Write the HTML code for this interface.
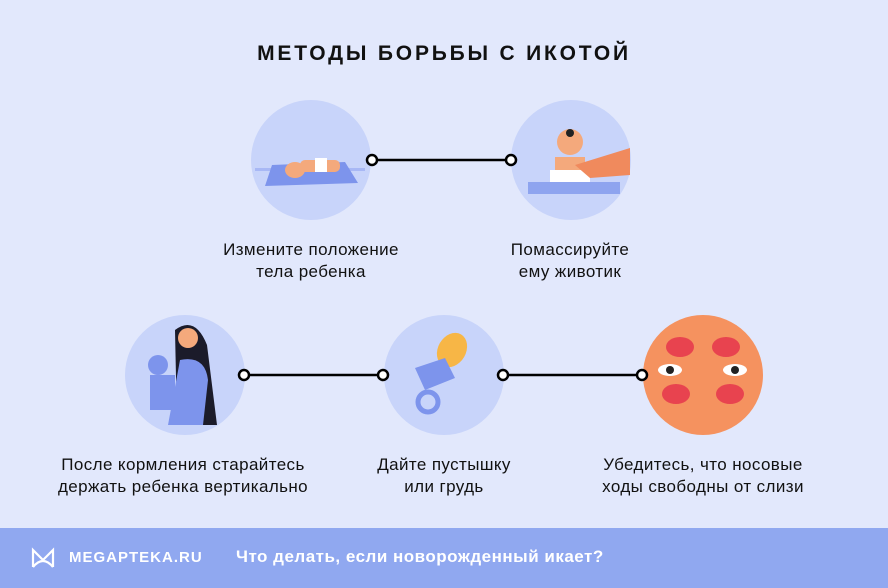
<!DOCTYPE html>
<html><head><meta charset="utf-8"><style>
body{margin:0;width:888px;height:588px;background:#e2e8fc;font-family:"Liberation Sans",sans-serif;position:relative;overflow:hidden}
.t{position:absolute;width:320px;text-align:center;font-size:17px;letter-spacing:0.4px;line-height:22px;color:#111}
h1{position:absolute;top:42px;left:0;width:888px;text-align:center;margin:0;font-size:21px;letter-spacing:2.8px;font-weight:bold;color:#111}
.f{position:absolute;left:0;top:528px;width:888px;height:60px;background:#90a8f0;color:#fff}
</style></head><body>
<h1>МЕТОДЫ БОРЬБЫ С ИКОТОЙ</h1>
<svg width="888" height="588" style="position:absolute;left:0;top:0">
<g fill="#c8d4fa"><circle cx="311" cy="160" r="60"/><circle cx="571" cy="160" r="60"/><circle cx="185" cy="375" r="60"/><circle cx="444" cy="375" r="60"/></g>
<circle cx="703" cy="375" r="60" fill="#f5925f"/>
<rect x="255" y="168" width="110" height="3" fill="#a8b8f5"/>
<path d="M272 165 L345 162 L358 183 L265 186 Z" fill="#7d94ec"/>
<ellipse cx="295" cy="170" rx="10" ry="8" fill="#f4a97c"/><rect x="300" y="160" width="40" height="12" rx="5" fill="#f4a97c"/><rect x="315" y="158" width="12" height="14" fill="#fff"/>
<circle cx="570" cy="142" r="13" fill="#f4a97c"/><circle cx="570" cy="133" r="4" fill="#222"/>
<path d="M555 157 h30 v25 h-30z" fill="#f4a97c"/><path d="M550 170 h40 v18 h-40z" fill="#fff"/>
<path d="M528 182 h92 v12 h-92z" fill="#8ea4ef" rx="5"/>
<path d="M575 165 L630 148 L630 175 L590 178 Z" fill="#f08a5d"/>
<path d="M175 330 q20 -15 32 15 q5 40 10 80 h-40z" fill="#1b1b2a"/>
<path d="M180 360 q25 -5 28 20 l-5 45 h-35z" fill="#7d94ec"/>
<circle cx="188" cy="338" r="10" fill="#f4a97c"/>
<circle cx="158" cy="365" r="10" fill="#7d94ec"/><path d="M150 375 h25 v35 h-25z" fill="#7d94ec"/>
<ellipse cx="452" cy="350" rx="14" ry="18" fill="#f7b646" transform="rotate(30 452 350)"/>
<path d="M415 368 l30 -10 l10 20 l-30 12z" fill="#7d94ec"/>
<circle cx="428" cy="402" r="10" fill="none" stroke="#7d94ec" stroke-width="5"/>
<ellipse cx="680" cy="347" rx="14" ry="10" fill="#e8434f"/><ellipse cx="726" cy="347" rx="14" ry="10" fill="#e8434f"/>
<ellipse cx="676" cy="394" rx="14" ry="10" fill="#e8434f"/><ellipse cx="730" cy="394" rx="14" ry="10" fill="#e8434f"/>
<ellipse cx="670" cy="370" rx="12" ry="6" fill="#fff"/><circle cx="670" cy="370" r="4" fill="#222"/>
<ellipse cx="735" cy="370" rx="12" ry="6" fill="#fff"/><circle cx="735" cy="370" r="4" fill="#222"/>
<g stroke="#000" stroke-width="2.5" fill="#fff">
<line x1="377" y1="160" x2="506" y2="160"/><circle cx="372" cy="160" r="5"/><circle cx="511" cy="160" r="5"/>
<line x1="249" y1="375" x2="378" y2="375"/><circle cx="244" cy="375" r="5"/><circle cx="383" cy="375" r="5"/>
<line x1="508" y1="375" x2="637" y2="375"/><circle cx="503" cy="375" r="5"/><circle cx="642" cy="375" r="5"/>
</g></svg>
<div class="t" style="left:151px;top:239px">Измените положение<br>тела ребенка</div>
<div class="t" style="left:410px;top:239px">Помассируйте<br>ему животик</div>
<div class="t" style="left:23px;top:454px">После кормления старайтесь<br>держать ребенка вертикально</div>
<div class="t" style="left:284px;top:454px">Дайте пустышку<br>или грудь</div>
<div class="t" style="left:543px;top:454px">Убедитесь, что носовые<br>ходы свободны от слизи</div>
<div class="f">
<svg width="26" height="22" style="position:absolute;left:30px;top:19px"><path d="M3 20 V3 L13 13 L23 3 V20 M3 20 Q13 8 23 20" fill="none" stroke="#fff" stroke-width="2.2"/></svg>
<div style="position:absolute;left:69px;top:21px;font-size:15px;font-weight:bold;letter-spacing:1px">MEGAPTEKA.RU</div>
<div style="position:absolute;left:236px;top:19px;font-size:17px;letter-spacing:0.5px;font-weight:bold">Что делать, если новорожденный икает?</div>
</div>
</body></html>
